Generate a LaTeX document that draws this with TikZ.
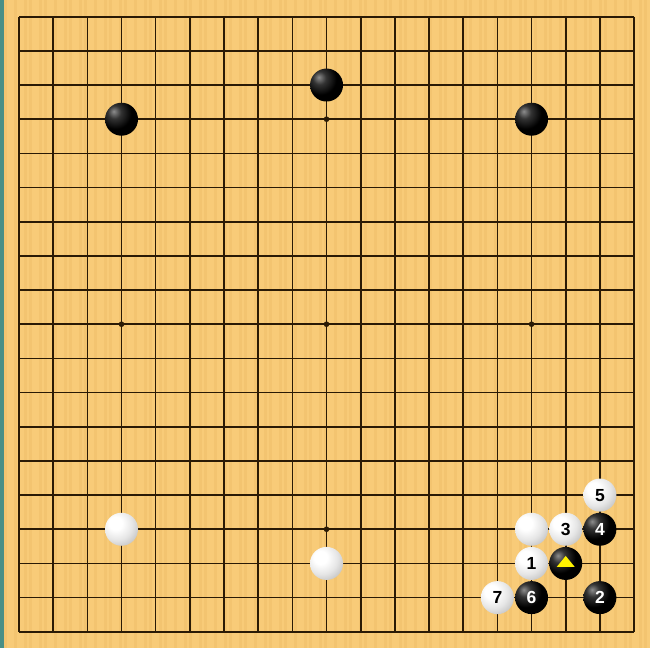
\documentclass[tikz,border=0pt]{standalone}
\usepackage{fontspec}
\setmainfont{Liberation Sans}
\definecolor{boardc}{HTML}{F8CB78}
\definecolor{stripec}{HTML}{F0C06C}
\definecolor{tealc}{HTML}{4A8F86}
\definecolor{linec}{HTML}{2A1A05}
\definecolor{triy}{HTML}{FFF200}
\pgfdeclareradialshading{bstshade}{\pgfpoint{-12bp}{12bp}}{color(0bp)=(black!45); color(10bp)=(black!80); color(24bp)=(black); color(100bp)=(black)}
\pgfdeclareradialshading{wstshade}{\pgfpoint{-10bp}{10bp}}{color(0bp)=(white); color(10bp)=(white); color(24bp)=(black!10); color(38bp)=(black!26); color(50bp)=(black!42); color(100bp)=(black!45)}
\tikzset{
  gridline/.style={draw=linec, line width=1.6pt},
  hoshi/.style={fill=linec},
  stone/.style={circle, minimum size=33pt, inner sep=0pt, font=\fontsize{17.5}{17.5}\selectfont\bfseries},
  bstone/.style={stone, shading=bstshade, text=white},
  wstone/.style={stone, shading=wstshade, text=black},
}
\begin{document}
\begin{tikzpicture}[x=1pt,y=-1pt]
\useasboundingbox (0,0) rectangle (650,648);
\fill[boardc] (0,0) rectangle (650,648);
\foreach \i in {0,...,80} {
  \pgfmathsetmacro{\xx}{4+\i*8+mod(\i*37,5)}
  \fill[stripec, opacity=0.6] (\xx,0) rectangle (\xx+2.5,648);
}
\fill[tealc] (0,0) rectangle (3.5,648);
\begin{scope}[shift={(19,16.7)}, x=34.17pt, y=-34.17pt]
  \foreach \i in {0,...,18} {
    \draw[gridline] (\i,0) -- (\i,18);
    \draw[gridline] (0,\i) -- (18,\i);
  }
  \foreach \a in {3,9,15} \foreach \b in {3,9,15}
    \fill[hoshi] (\a,\b) circle[radius=2.8pt];
  % black stones
  \node[bstone] (b1) at (3,3) {};
  \node[bstone] (b2) at (9,2) {};
  \node[bstone] (b3) at (15,3) {};
  % white stones
  \node[wstone] (w1) at (3,15) {};
  \node[wstone] (w2) at (9,16) {};
  \node[wstone] (w3) at (15,15) {};
  % marked black stone
  \node[bstone] (tri) at (16,16) {};
  \fill[triy] ([shift={(0pt,7.5pt)}]tri.center) -- ([shift={(-9pt,-3.5pt)}]tri.center) -- ([shift={(9pt,-3.5pt)}]tri.center) -- cycle;
  % numbered stones
  \node[wstone] (m1) at (15,16) {1};
  \node[bstone] (m2) at (17,17) {2};
  \node[wstone] (m3) at (16,15) {3};
  \node[bstone] (m4) at (17,15) {4};
  \node[wstone] (m5) at (17,14) {5};
  \node[bstone] (m6) at (15,17) {6};
  \node[wstone] (m7) at (14,17) {7};
\end{scope}
\end{tikzpicture}
\end{document}
